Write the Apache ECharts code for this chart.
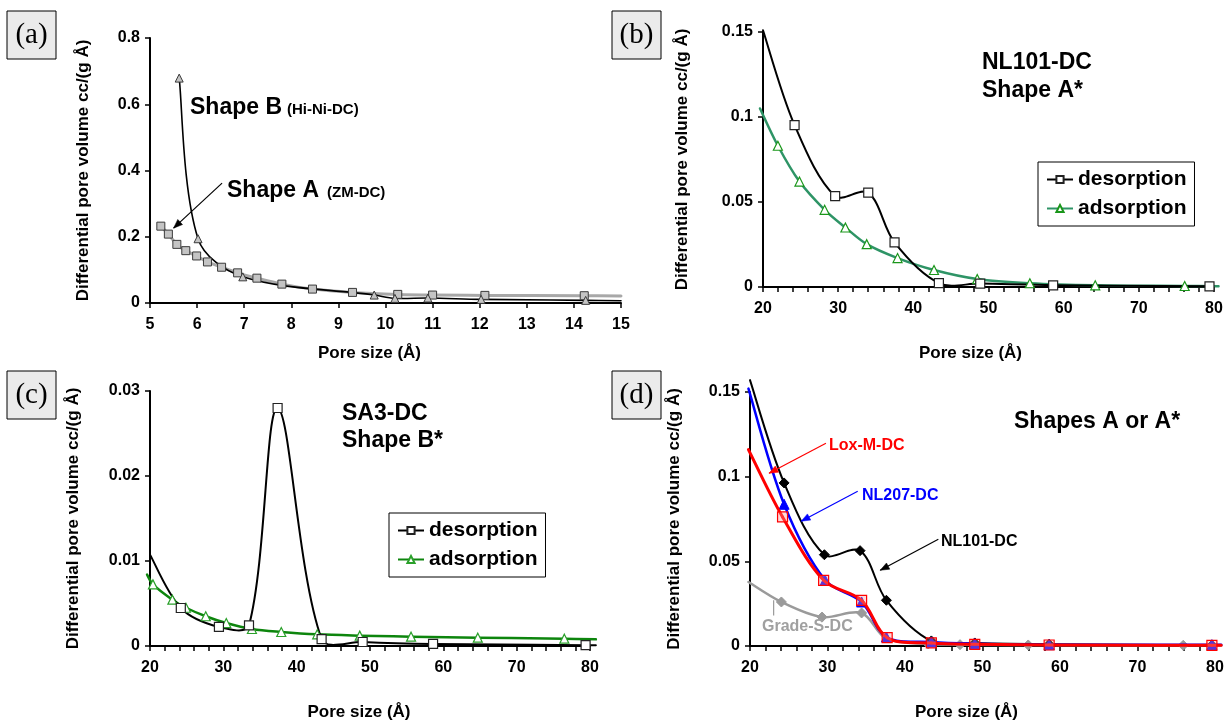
<!DOCTYPE html>
<html><head><meta charset="utf-8">
<script src="https://cdn.jsdelivr.net/npm/echarts@6/dist/echarts.min.js"></script>
<style>html,body{margin:0;padding:0;background:#fff}#c{width:1230px;height:724px}</style>
</head><body><div id="c"></div>
<script>
// ---------- DATA ----------
// (a)
const aShapeA_x = [5.23, 5.39, 5.57, 5.76, 5.99, 6.22, 6.52, 6.86, 7.27, 7.8, 8.45, 9.3, 10.26, 11.0, 12.11, 14.22, 15.0];
const aShapeA_y = [0.232, 0.208, 0.177, 0.158, 0.142, 0.124, 0.108, 0.091, 0.075, 0.057, 0.042, 0.032, 0.026, 0.024, 0.023, 0.022, 0.021];
const aShapeB_x = [5.62, 6.02, 6.97, 9.76, 10.2, 10.9, 12.03, 14.25, 15.0];
const aShapeB_y = [0.679, 0.194, 0.079, 0.024, 0.014, 0.015, 0.011, 0.008, 0.007];
// (b) NL101-DC
const bDes_x = [20, 24.2, 29.6, 34.0, 37.5, 43.4, 48.9, 58.6, 79.4];
const bDes_y = [0.151, 0.0952, 0.0534, 0.0555, 0.0262, 0.0023, 0.0020, 0.0010, 0.0004];
const bAds_x = [19.6, 21.98, 24.85, 28.2, 30.96, 33.8, 37.9, 42.75, 48.5, 55.5, 64.2, 76.1, 80.6];
const bAds_y = [0.105, 0.0831, 0.062, 0.0454, 0.035, 0.0252, 0.017, 0.010, 0.0047, 0.0022, 0.001, 0.0006, 0.0005];
// (c) SA3-DC
const cDes_x = [20, 24.2, 29.4, 33.5, 37.4, 43.4, 49.0, 58.6, 79.4, 80.8];
const cDes_y = [0.01075, 0.00447, 0.00224, 0.00243, 0.0280, 0.00082, 0.00047, 0.00024, 0.0001, 0.0001];
const cAds_x = [19.6, 20.4, 23.05, 24.9, 27.6, 30.4, 33.9, 37.9, 42.8, 48.6, 55.6, 64.7, 76.5, 80.8];
const cAds_y = [0.0084, 0.00725, 0.00545, 0.0045, 0.0035, 0.0027, 0.0020, 0.00165, 0.00137, 0.00122, 0.0011, 0.00098, 0.00086, 0.00078];
// (d)
const d101_x = [20, 24.4, 29.6, 34.2, 37.6, 43.4, 49.0, 58.6, 79.6, 80.8];
const d101_y = [0.157, 0.0963, 0.0539, 0.0563, 0.0270, 0.0030, 0.0018, 0.0010, 0.0004, 0.0004];
const d207_x = [19.8, 24.4, 29.7, 34.4, 37.6, 43.4, 49.0, 58.6, 79.6, 80.8];
const d207_y = [0.152, 0.0837, 0.0388, 0.0260, 0.0053, 0.0024, 0.0014, 0.0008, 0.0008, 0.0008];
const dLox_x = [19.8, 24.2, 29.5, 34.4, 37.7, 43.4, 49.0, 58.6, 79.6, 80.8];
const dLox_y = [0.116, 0.0762, 0.0388, 0.0270, 0.0049, 0.0018, 0.0010, 0.0006, 0.0004, 0.0004];
const dGrade_x = [19.8, 24.05, 29.3, 34.4, 37.6, 43.0, 47.1, 55.9, 75.9, 80.8];
const dGrade_y = [0.0378, 0.0260, 0.0171, 0.0195, 0.0043, 0.0012, 0.0008, 0.0006, 0.0004, 0.0004];
// annotation arrows (data units: x1, y1, x2, y2, head)
const aArrow = [6.53, 0.362, 5.5, 0.226, 1];
const dArrowLox = [29.8, 0.1197, 22.45, 0.102, 1];
const dArrow207 = [33.9, 0.0914, 26.6, 0.0737, 1];
const dArrow101 = [44.3, 0.063, 36.8, 0.0447, 1];
const dTickGrade = [23.05, 0.018, 23.05, 0.027, 0];

// ---------- HELPERS ----------
const FONT = '"Liberation Sans", Arial, Helvetica, sans-serif';
function pts(xs, ys, hidden) {
  return xs.map((x, i) => hidden.includes(i) ? {value: [x, ys[i]], symbol: 'none'} : [x, ys[i]]);
}
function fmt(v) { return String(parseFloat(v.toFixed(4))); }
function xAx(grid, min, max, minor, gap, shift) {
  return {
    type: 'value', gridIndex: grid, min: min, max: max, interval: max - min === 10 ? 1 : 10,
    axisLine: {show: true, onZero: false, lineStyle: {color: '#000', width: 2}},
    axisTick: {show: true, length: 5, lineStyle: {color: '#000', width: 1.5}},
    minorTick: {show: minor, splitNumber: 5, length: 5, lineStyle: {color: '#000', width: 1.5}},
    splitLine: {show: false},
    axisLabel: {color: '#000', fontSize: 16, fontWeight: 'bold', fontFamily: FONT, margin: 14, formatter: fmt},
    name: 'Pore size (Å)', nameLocation: 'middle', nameGap: gap,
    nameTextStyle: {color: '#000', fontSize: 17, fontWeight: 'bold', fontFamily: FONT, padding: [0, shift, 0, 0]}
  };
}
function yAx(grid, max, interval, gap) {
  return {
    type: 'value', gridIndex: grid, min: 0, max: max, interval: interval,
    axisLine: {show: true, lineStyle: {color: '#000', width: 2}},
    axisTick: {show: true, length: 5, lineStyle: {color: '#000', width: 1.5}},
    splitLine: {show: false},
    axisLabel: {color: '#000', fontSize: 16, fontWeight: 'bold', fontFamily: FONT, margin: 10, formatter: fmt},
    name: 'Differential pore volume cc/(g Å)', nameLocation: 'middle', nameGap: gap,
    nameTextStyle: {color: '#000', fontSize: 17, fontWeight: 'bold', fontFamily: FONT}
  };
}
// Smoothed line (spreadsheet-like spline) drawn through the axis scales
function curve(xs, ys, gi, color, width, z) {
  const n = xs.length;
  return {
    type: 'custom', xAxisIndex: gi, yAxisIndex: gi, z: z, silent: true, clip: false,
    data: xs.map((x, i) => [x, ys[i]]), encode: {x: 0, y: 1},
    renderItem: function (params, api) {
      const i = params.dataIndex;
      if (i >= n - 1) return null;
      const P = k => { k = Math.max(0, Math.min(n - 1, k)); return api.coord([xs[k], ys[k]]); };
      const D = (p, q) => Math.hypot(q[0] - p[0], q[1] - p[1]) || 1e-6;
      const p0 = P(i - 1), p1 = P(i), p2 = P(i + 1), p3 = P(i + 2);
      const d01 = D(p0, p1), d12 = D(p1, p2), d23 = D(p2, p3);
      const f1 = (i === 0 ? 0.5 : d12 / (d01 + d12)) / 3;
      const f2 = (i + 2 > n - 1 ? 0.5 : d12 / (d12 + d23)) / 3;
      return {
        type: 'bezierCurve',
        shape: {x1: p1[0], y1: p1[1], x2: p2[0], y2: p2[1],
          cpx1: p1[0] + (p2[0] - p0[0]) * f1, cpy1: p1[1] + (p2[1] - p0[1]) * f1,
          cpx2: p2[0] - (p3[0] - p1[0]) * f2, cpy2: p2[1] - (p3[1] - p1[1]) * f2},
        style: {stroke: color, lineWidth: width, fill: 'none', lineCap: 'round'}
      };
    }
  };
}
function markers(name, xs, ys, gi, hidden, symbol, size, lineColor, lineWidth, itemStyle, z) {
  return {
    name: name, type: 'line', xAxisIndex: gi, yAxisIndex: gi, clip: false, z: z,
    data: pts(xs, ys, hidden), symbol: symbol, symbolSize: size, showSymbol: true,
    lineStyle: {color: lineColor, width: lineWidth, opacity: 0},
    itemStyle: itemStyle
  };
}
function arrowSeries(seg, gi, color) {
  return {
    type: 'custom', xAxisIndex: gi, yAxisIndex: gi, z: 10, silent: true, clip: false,
    data: [seg],
    renderItem: function (params, api) {
      const a = api.coord([seg[0], seg[1]]), b = api.coord([seg[2], seg[3]]);
      const children = [{type: 'line', shape: {x1: a[0], y1: a[1], x2: b[0], y2: b[1]},
        style: {stroke: color, lineWidth: 1.2, fill: 'none'}}];
      if (seg[4]) {
        const dx = b[0] - a[0], dy = b[1] - a[1], L = Math.hypot(dx, dy), ux = dx / L, uy = dy / L;
        const hl = 9, hw = 3.5;
        children.push({type: 'polygon', shape: {points: [
          [b[0], b[1]],
          [b[0] - ux * hl - uy * hw, b[1] - uy * hl + ux * hw],
          [b[0] - ux * hl + uy * hw, b[1] - uy * hl - ux * hw]]},
          style: {fill: color, stroke: color, lineWidth: 0.5}});
      }
      return {type: 'group', children: children};
    }
  };
}
function txt(x, y, text, size, color) {
  return {type: 'text', x: x, y: y, z: 100,
    style: {text: text, fill: color || '#000', font: 'bold ' + size + 'px ' + FONT, verticalAlign: 'middle', align: 'left'}};
}
function box(x, y, label) {
  return [
    {type: 'rect', shape: {x: x, y: y, width: 49, height: 48}, style: {fill: '#ebebeb', stroke: '#000', lineWidth: 1}, z: 100},
    {type: 'text', x: x + 24.5, y: y + 24, z: 101,
     style: {text: label, fill: '#000', font: '29px "Liberation Serif", "Times New Roman", serif', align: 'center', verticalAlign: 'middle'}}
  ];
}
const lgFmt = n => n.replace(/^[a-z]-/, '');

const openSq = {color: '#fff', borderColor: '#222', borderWidth: 1.2};
const series = [
  // (a)
  curve(aShapeA_x, aShapeA_y, 0, '#a8a8a8', 3, 2),
  curve(aShapeB_x, aShapeB_y, 0, '#000', 1.6, 3),
  markers('a-ShapeA', aShapeA_x, aShapeA_y, 0, [16], 'rect', 8, '#a8a8a8', 3,
    {color: '#c4c4c4', borderColor: '#3a3a3a', borderWidth: 1}, 4),
  markers('a-ShapeB', aShapeB_x, aShapeB_y, 0, [8], 'triangle', 8, '#000', 1.6,
    {color: '#c4c4c4', borderColor: '#3a3a3a', borderWidth: 1}, 5),
  arrowSeries(aArrow, 0, '#000'),
  // (b)
  curve(bAds_x, bAds_y, 1, '#2e9466', 2.5, 2),
  curve(bDes_x, bDes_y, 1, '#000', 2, 3),
  markers('b-adsorption', bAds_x, bAds_y, 1, [0, 12], 'triangle', 9, '#2e9466', 2.5,
    {color: '#fff', borderColor: '#1a961a', borderWidth: 1.2}, 4),
  markers('b-desorption', bDes_x, bDes_y, 1, [0], 'rect', 9, '#000', 2, openSq, 5),
  // (c)
  curve(cAds_x, cAds_y, 2, '#0d850d', 2.5, 2),
  curve(cDes_x, cDes_y, 2, '#000', 2, 3),
  markers('c-adsorption', cAds_x, cAds_y, 2, [0, 13], 'triangle', 9, '#0d850d', 2.5,
    {color: '#fff', borderColor: '#2aa02a', borderWidth: 1.2}, 4),
  markers('c-desorption', cDes_x, cDes_y, 2, [0, 9], 'rect', 9, '#000', 2, openSq, 5),
  // (d)
  curve(dGrade_x, dGrade_y, 3, '#9a9a9a', 2.5, 2),
  markers('Grade-S-DC', dGrade_x, dGrade_y, 3, [0, 4, 9], 'diamond', 10, '#9a9a9a', 2.5,
    {color: '#9a9a9a', borderColor: '#9a9a9a'}, 2),
  curve(d101_x, d101_y, 3, '#000', 2, 3),
  markers('NL101-DC', d101_x, d101_y, 3, [0, 9], 'diamond', 10, '#000', 2,
    {color: '#000', borderColor: '#000'}, 3),
  curve(d207_x, d207_y, 3, '#0000ff', 2.5, 4),
  markers('NL207-DC', d207_x, d207_y, 3, [0, 9], 'triangle', 10, '#0000ff', 2.5,
    {color: '#0000ff', borderColor: '#0000ff'}, 4),
  curve(dLox_x, dLox_y, 3, '#ff0000', 3, 5),
  markers('Lox-M-DC', dLox_x, dLox_y, 3, [0, 9], 'rect', 10, '#ff0000', 3,
    {color: 'rgba(255,150,150,0.35)', borderColor: '#ff0000', borderWidth: 1.2}, 6),
  arrowSeries(dArrowLox, 3, '#ff0000'),
  arrowSeries(dArrow207, 3, '#0000ff'),
  arrowSeries(dArrow101, 3, '#000'),
  arrowSeries(dTickGrade, 3, '#9a9a9a')
];

const graphic = [].concat(
  box(7, 11, '(a)'), box(612, 11, '(b)'), box(7, 371, '(c)'), box(612, 371, '(d)'),
  [
    txt(190, 108, 'Shape B', 23), txt(287, 110, '(Hi-Ni-DC)', 15),
    txt(227, 191, 'Shape A', 23), txt(327, 193, '(ZM-DC)', 15),
    txt(982, 63, 'NL101-DC', 23), txt(982, 91, 'Shape A*', 23),
    txt(342, 414, 'SA3-DC', 23), txt(342, 441, 'Shape B*', 23),
    txt(1014, 422, 'Shapes A or A*', 23),
    txt(829, 446, 'Lox-M-DC', 16, '#ff0000'),
    txt(862, 496, 'NL207-DC', 16, '#0000ff'),
    txt(941, 542, 'NL101-DC', 16, '#000'),
    txt(762, 627, 'Grade-S-DC', 16, '#a0a0a0')
  ]
);

const legendBase = {
  orient: 'vertical', borderColor: '#000', borderWidth: 1, backgroundColor: '#fff',
  padding: [7, 8, 7, 8], itemGap: 8, itemWidth: 26, itemHeight: 9, selectedMode: false,
  formatter: lgFmt, lineStyle: {opacity: 1},
  textStyle: {color: '#000', fontSize: 21, fontWeight: 'bold', fontFamily: FONT}
};

const option = {
  animation: false,
  backgroundColor: '#fff',
  grid: [
    {left: 150, top: 38, width: 471, height: 265},
    {left: 763, top: 32, width: 451, height: 255},
    {left: 150, top: 391, width: 440, height: 255},
    {left: 750, top: 392, width: 465, height: 254}
  ],
  xAxis: [
    xAx(0, 5, 15, false, 42, 32),
    xAx(1, 20, 80, true, 58, 36),
    xAx(2, 20, 80, true, 58, 22),
    xAx(3, 20, 80, true, 58, 32)
  ],
  yAxis: [
    yAx(0, 0.8, 0.2, 58),
    yAx(1, 0.15, 0.05, 72),
    yAx(2, 0.03, 0.01, 68),
    yAx(3, 0.15, 0.05, 67)
  ],
  legend: [
    Object.assign({left: 1038, top: 162, data: ['b-desorption', 'b-adsorption']}, legendBase),
    Object.assign({left: 389, top: 513, data: ['c-desorption', 'c-adsorption']}, legendBase)
  ],
  series: series,
  graphic: graphic
};
const chart = echarts.init(document.getElementById('c'), null, {renderer: 'canvas'});
chart.setOption(option);
</script></body></html>
